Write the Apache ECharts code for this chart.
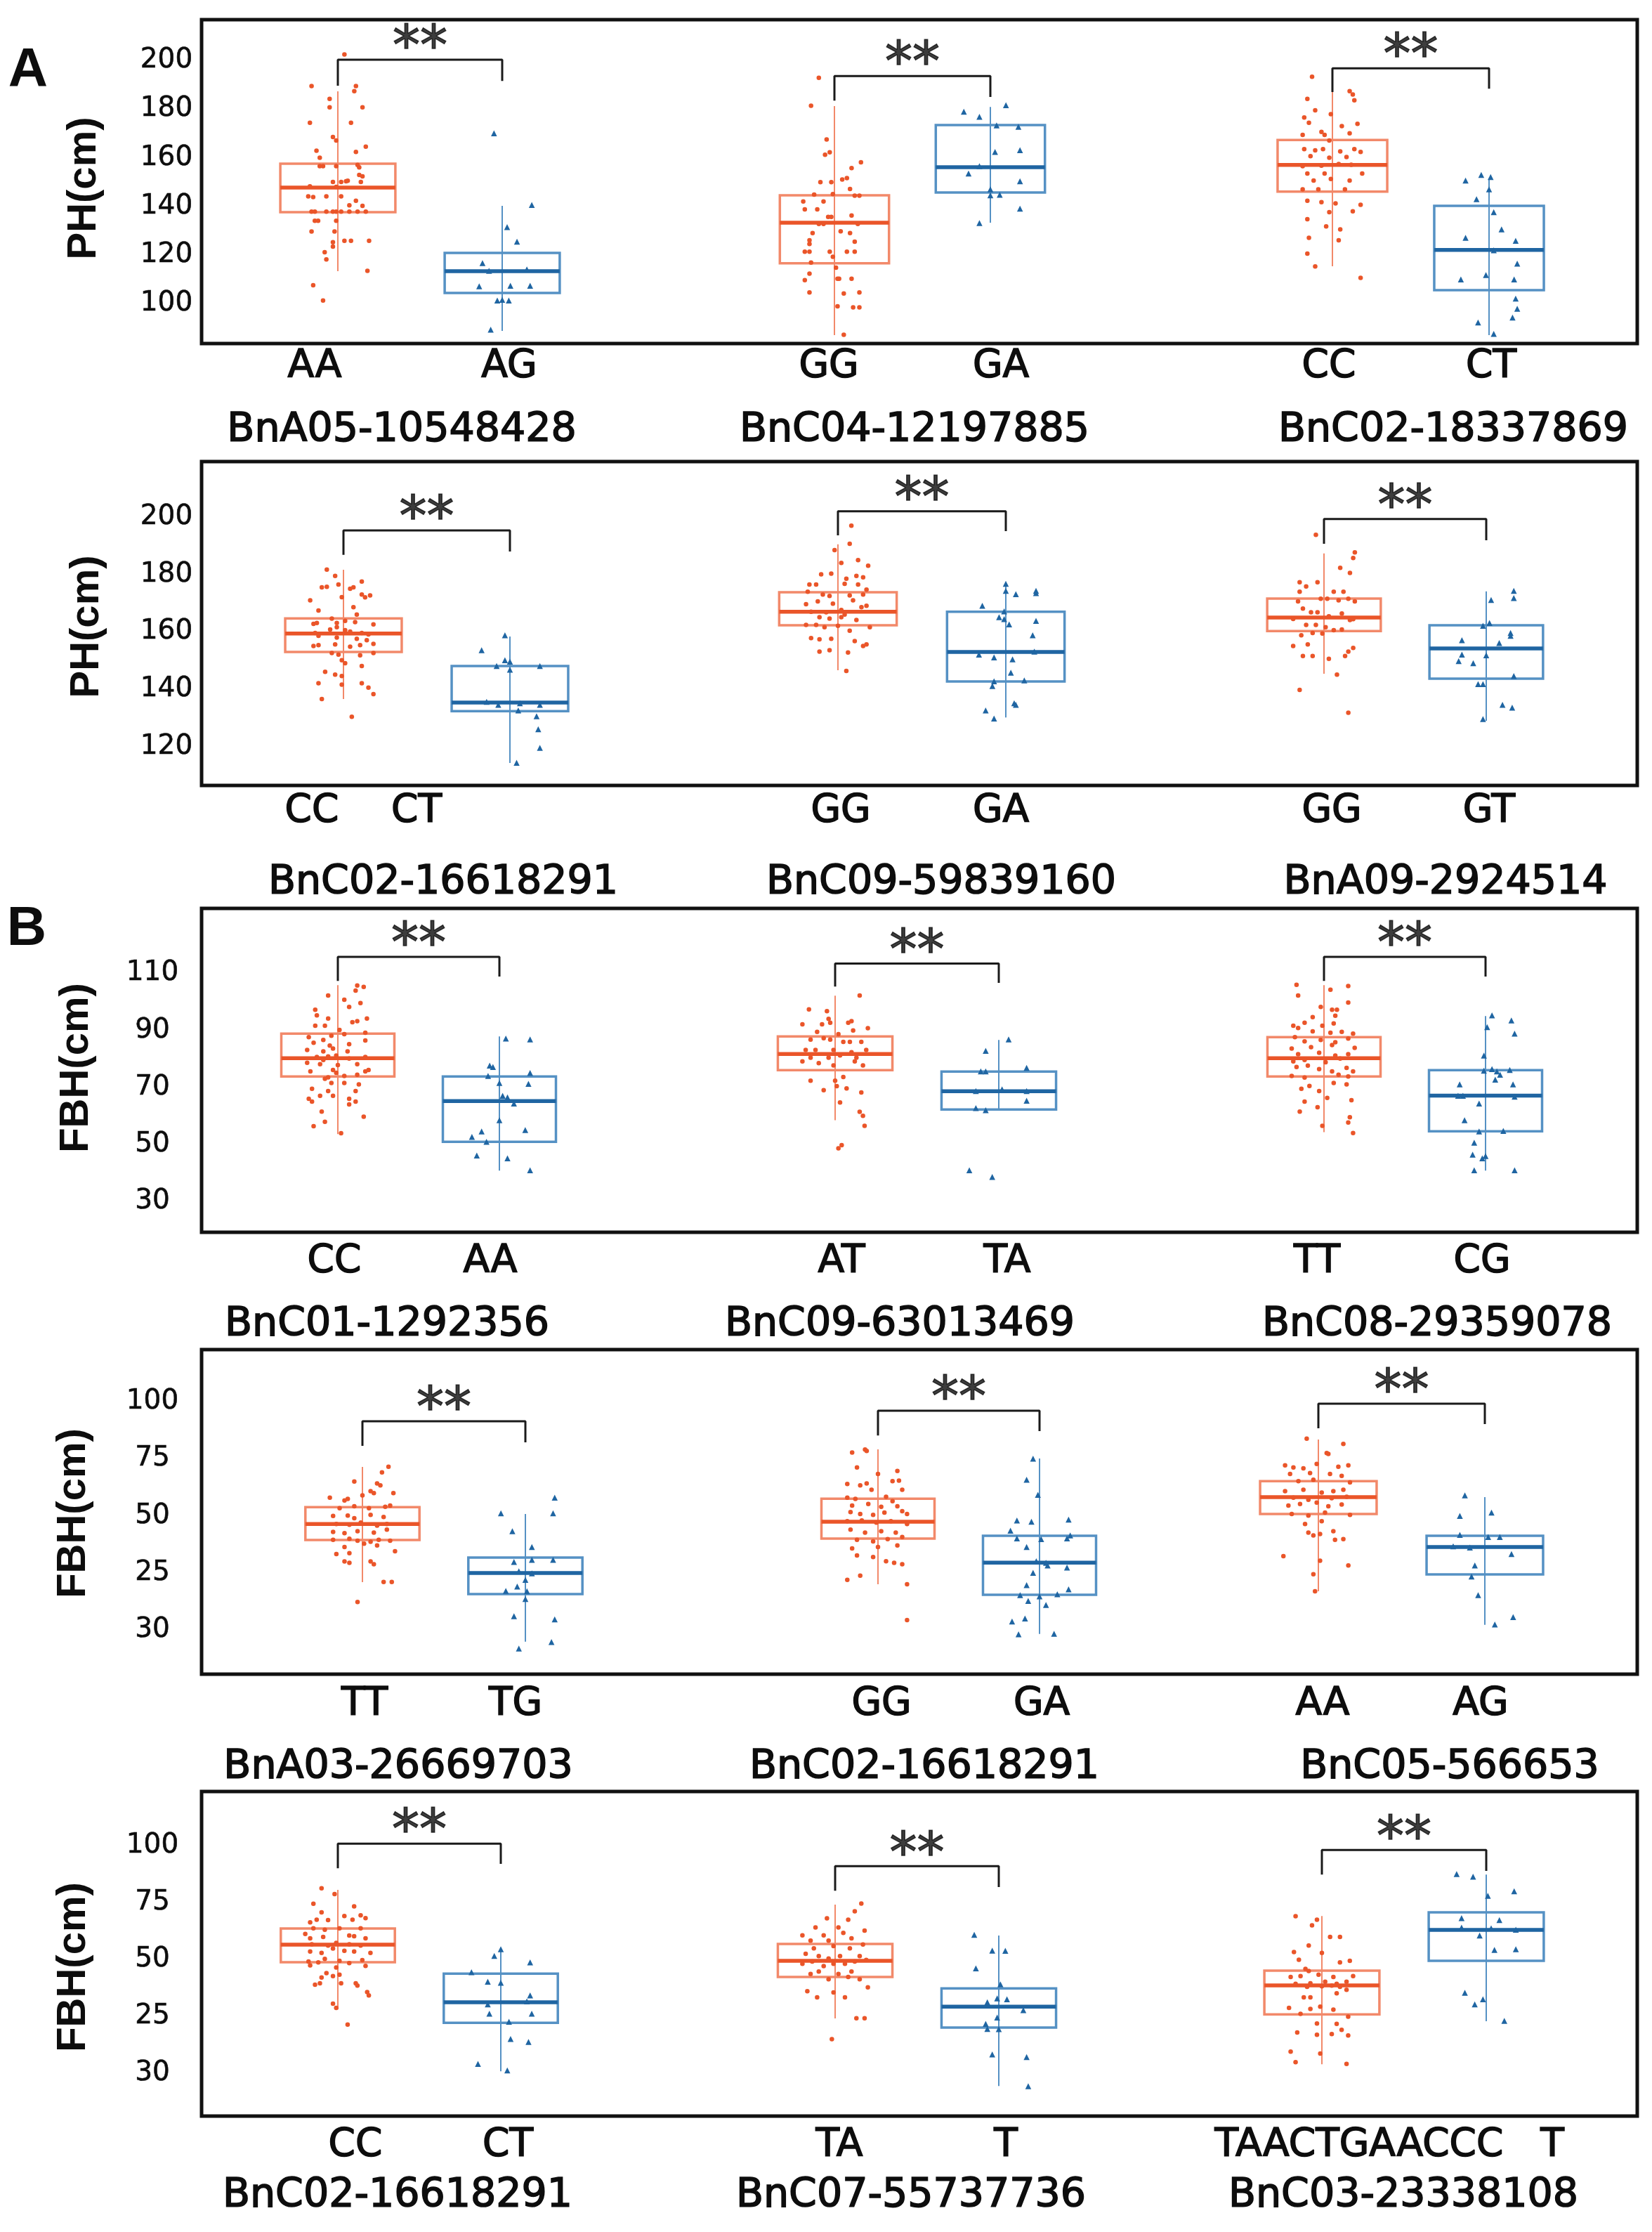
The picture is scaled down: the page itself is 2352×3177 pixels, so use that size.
<!DOCTYPE html>
<html lang="en">
<head>
<meta charset="UTF-8">
<title>PH / FBH genotype boxplots</title>
<style>
  html, body { margin: 0; padding: 0; background: #fff; }
  #container { width: 2352px; height: 3177px; }
</style>
</head>
<body>
<div id="container"></div>
<script src="https://cdn.jsdelivr.net/npm/echarts@6/dist/echarts.min.js"></script>
<script type="text/javascript">
// ---- data ----
var genotypes = [
  ['AA', 'AG'], ['GG', 'GA'], ['CC', 'CT'],
  ['CC', 'CT'], ['GG', 'GA'], ['GG', 'GT'],
  ['CC', 'AA'], ['AT', 'TA'], ['TT', 'CG'],
  ['TT', 'TG'], ['GG', 'GA'], ['AA', 'AG'],
  ['CC', 'CT'], ['TA', 'T'], ['TAACTGAACCC', 'T']
];
var markers = [
  'BnA05-10548428', 'BnC04-12197885', 'BnC02-18337869',
  'BnC02-16618291', 'BnC09-59839160', 'BnA09-2924514',
  'BnC01-1292356', 'BnC09-63013469', 'BnC08-29359078',
  'BnA03-26669703', 'BnC02-16618291', 'BnC05-566653',
  'BnC02-16618291', 'BnC07-55737736', 'BnC03-23338108'
];
var axisTitles = ['PH(cm)', 'PH(cm)', 'FBH(cm)', 'FBH(cm)', 'FBH(cm)'];
var phTicks = [100, 120, 140, 160, 180, 200];
var fbhTicks = [30, 50, 70, 90, 110];
var fbhTicks2 = [0, 25, 50, 75, 100];
var fbhTickText2 = ['30', '25', '50', '75', '100'];

// [min, Q1, median, Q3, max] for the two genotypes of each marker
var boxStats = [
  [[113.3, 137.6, 147.7, 157.5, 187.3], [88.7, 104.3, 113.3, 120.8, 140.2]],
  [[87.0, 116.5, 133.2, 144.5, 181.2], [133.2, 145.7, 156.1, 173.4, 180.9]],
  [[115.3, 146.0, 157.0, 167.3, 187.0], [87.0, 105.5, 122.0, 140.2, 151.4]],
  [[136.6, 153.0, 159.4, 164.7, 181.6], [114.3, 132.4, 135.4, 148.1, 158.4]],
  [[146.6, 162.3, 167.0, 173.8, 190.5], [130.2, 142.7, 153.0, 167.0, 176.5]],
  [[145.4, 160.3, 165.0, 171.6, 187.3], [129.0, 143.7, 154.2, 162.3, 174.1]],
  [[53.6, 73.8, 80.2, 88.8, 105.8], [40.8, 50.9, 65.2, 73.8, 87.8]],
  [[58.5, 76.0, 81.7, 87.8, 102.1], [62.0, 62.2, 68.6, 75.5, 86.6]],
  [[54.3, 73.8, 80.2, 87.6, 105.8], [40.8, 54.6, 67.1, 76.0, 95.0]],
  [[20.9, 39.4, 46.4, 53.8, 71.4], [-5.2, 15.7, 24.9, 31.7, 50.8]],
  [[20.0, 40.0, 47.4, 57.5, 79.1], [-1.8, 15.4, 29.5, 41.2, 75.1]],
  [[16.9, 50.8, 58.2, 65.2, 83.4], [2.2, 24.3, 36.3, 41.2, 58.2]],
  [[28.1, 48.8, 56.5, 63.6, 80.6], [0.9, 22.2, 31.2, 43.8, 54.9]],
  [[24.1, 42.3, 49.4, 56.8, 74.1], [-5.6, 20.1, 29.3, 37.3, 60.5]],
  [[4.0, 25.9, 38.6, 45.1, 69.1], [22.9, 49.4, 63.0, 70.7, 87.3]]
];

// significance bracket: [left leg bottom, top, right leg bottom]
var brackets = [
  [189.6, 200.3, 191.6], [183.5, 193.6, 185.0], [187.0, 196.8, 188.4],
  [186.8, 195.3, 188.0], [193.6, 202.0, 195.1], [190.7, 199.3, 191.9],
  [107.3, 115.7, 108.8], [105.3, 113.4, 106.6], [107.3, 115.7, 108.8],
  [80.6, 91.4, 82.2], [85.2, 96.0, 87.1], [88.3, 99.1, 90.2],
  [90.1, 100.9, 92.0], [80.2, 91.0, 81.8], [87.3, 98.1, 88.9]
];

// jittered points: [horizontal jitter, value]
var orangePts = [
  [[0.04,202.5],[-0.16,189.5],[0.10,187.4],[0.11,189.5],[-0.05,184.2],[-0.05,180.7],[0.15,180.7],[-0.17,174.4],[0.08,174.4],[-0.03,168.5],[-0.01,167.1],[-0.13,162.9],[0.11,162.4],[0.17,164.5],[-0.11,160],[-0.11,156.5],[-0.09,156.5],[-0.01,156.5],[0.12,157],[0.13,156],[0.13,152.9],[0.15,152.3],[-0.03,150],[0.02,150],[0.05,150.3],[0.06,150.5],[0.14,150],[-0.17,148.2],[-0.01,148],[-0.18,144.1],[-0.15,143.8],[-0.07,144.1],[0.02,144.1],[0.11,142.3],[0.07,140.4],[0.15,140.2],[-0.16,137.8],[-0.14,137.8],[-0.07,137.8],[-0.03,137.8],[-0.01,137.8],[0.02,137.8],[0.07,137.8],[0.12,137.8],[0.17,137.8],[-0.14,134],[-0.12,134],[-0.01,134],[-0.16,129.6],[-0.02,129.6],[0.04,125.8],[0.08,125.8],[0.19,125.8],[-0.03,125.2],[-0.03,123.4],[-0.08,121.1],[-0.07,118.1],[0.18,113.4],[-0.15,107.5],[-0.09,101.2]],
  [[-0.10,192.9],[-0.15,181.4],[-0.05,167.5],[-0.06,161.2],[-0.03,162.2],[0.11,155.7],[0.17,158.1],[-0.09,149.9],[-0.02,149.9],[0.05,151],[0.08,151.6],[-0.13,144.8],[-0.01,145],[0.10,147.1],[0.13,144.4],[0.16,144.4],[-0.20,142],[-0.07,142],[-0.19,138.7],[-0.11,138.7],[-0.04,135.6],[-0.02,135.6],[0.11,136.2],[-0.10,132.7],[-0.07,132.7],[0.15,132.7],[-0.14,129],[0.04,129.7],[0.10,129],[-0.16,126],[0.13,125.4],[-0.16,124.5],[-0.19,121.3],[-0.16,121.3],[-0.03,121.3],[0.08,121.3],[0.13,121.3],[-0.01,119.2],[-0.15,116.8],[0.01,114.7],[-0.16,112.3],[0.02,110.2],[0.03,110.2],[0.11,110.2],[-0.19,109.6],[-0.16,104.5],[0.06,104.1],[0.16,104.5],[0.02,98.8],[0.12,98.4],[0.16,98.4],[0.06,87.1]],
  [[-0.13,193.3],[-0.16,184.2],[0.11,187.4],[0.13,186],[0.14,183.6],[-0.11,179.5],[-0.01,177.9],[-0.18,176.5],[-0.15,174.4],[0.06,173],[0.16,173.9],[-0.07,170.6],[-0.05,169.4],[0.11,170],[-0.19,169.4],[-0.02,167.1],[-0.18,163.5],[-0.11,163],[-0.06,163.5],[0.05,162.6],[0.14,163.5],[0.18,162.4],[-0.14,160.6],[-0.02,160],[0.09,160.3],[-0.19,156.5],[-0.07,156.7],[0.04,157.4],[0.12,157.1],[-0.16,153.5],[-0.05,153.5],[0.19,153.5],[-0.12,150.6],[-0.01,151.2],[0.11,150.6],[-0.19,147],[-0.09,147],[0.08,147],[-0.16,142.3],[-0.07,141.7],[0.02,141.2],[0.18,140.6],[-0.02,137.6],[0.13,137.9],[-0.16,134.7],[-0.04,131.7],[0.05,130.5],[-0.15,127],[0.04,126],[-0.16,120.5],[-0.11,115.2],[0.18,110.5]],
  [[-0.10,181.7],[-0.05,179.5],[-0.13,175.5],[-0.10,175.7],[-0.03,176.5],[0.04,175],[0.06,175.5],[0.11,177.5],[0.11,173],[0.13,172],[0.16,172.7],[-0.20,171],[-0.01,172.1],[-0.15,167.4],[0.06,168.6],[0.08,166],[-0.07,164.6],[0.01,163.8],[-0.18,162.8],[-0.16,163.1],[-0.04,163.1],[0.07,163.4],[0.18,162.6],[-0.08,160.8],[-0.04,161.6],[0.01,160.6],[0.04,160.1],[0.11,159.6],[-0.17,159.6],[-0.15,158.6],[0.15,159.1],[-0.04,158],[0.08,157.6],[0.14,157.1],[-0.18,155.1],[-0.15,155.4],[-0.05,155.6],[0.04,154.8],[0.10,155.4],[0.18,155.8],[-0.07,152.6],[-0.03,152.1],[0.18,152.6],[-0.01,150.1],[0.01,149.1],[0.10,151.8],[0.11,148.1],[-0.11,146.1],[-0.05,145.1],[-0.01,144.6],[-0.15,142.1],[-0.01,141.6],[0.11,142.1],[0.15,140.6],[0.18,138.3],[-0.13,136.6],[0.05,130.4]],
  [[0.08,197],[0.07,190.7],[-0.02,188.5],[0.02,184],[0.12,185],[0.18,183],[-0.10,180],[-0.04,180.3],[0.05,178.5],[0.11,179.5],[0.15,179],[-0.17,176.5],[-0.13,176.5],[0.04,176.7],[0.12,176.5],[0.17,174.7],[-0.18,174],[-0.09,173],[-0.05,172.5],[0.07,172.7],[0.15,173],[-0.19,169.6],[-0.12,170.6],[-0.03,169.8],[0.09,171],[0.17,169.1],[-0.16,167],[-0.07,166.8],[0.02,167.6],[0.04,166],[0.14,168.6],[-0.11,165.1],[-0.05,164.6],[0.02,165.1],[0.11,164.1],[-0.19,162.4],[-0.13,162.4],[-0.08,161.6],[0,162.1],[0.07,160.4],[0.19,161.6],[-0.16,157.8],[-0.11,157.4],[-0.04,157.6],[0.10,156.8],[0.15,155.1],[0.17,155.6],[-0.11,153.1],[-0.05,153.6],[0.06,152.8],[0.05,146.4]],
  [[-0.05,193.8],[0.19,187.7],[0.18,185.7],[0.10,182.3],[0.16,180.5],[-0.15,177.3],[-0.11,175.8],[-0.04,177.3],[-0.15,174],[0.06,174],[0.12,174],[-0.02,171.5],[0.02,171.5],[0.09,171],[0.15,171.5],[0.19,170.6],[-0.16,170.6],[-0.13,168.1],[-0.08,166.8],[-0.04,166.8],[0.03,165.4],[0.11,166.4],[-0.19,164.5],[0.16,164.1],[0.18,164.4],[-0.11,162.4],[-0.05,162.4],[0.01,161.6],[0.06,160.6],[0.11,160.8],[-0.14,158.8],[-0.07,159.6],[-0.19,155.1],[-0.10,155.6],[-0.01,159.4],[0.18,154.4],[0.15,153.1],[-0.13,151.6],[-0.07,151.6],[0.03,150.6],[0.13,151.6],[0.08,145.1],[-0.15,139.8],[0.15,131.8]],
  [[0.12,105.7],[0.16,105.2],[0.11,103.9],[-0.06,102.2],[0.04,100.7],[-0.14,97.2],[-0.13,95.2],[0.07,98.2],[0.14,99.5],[-0.06,94.1],[0.09,92.8],[0.12,93.2],[0.18,94.1],[-0.14,91.6],[-0.08,91.6],[0.01,90.1],[0.17,89.1],[-0.18,87.6],[-0.09,86.6],[-0.04,88.1],[0.04,88.6],[-0.15,85.6],[-0.05,84.6],[0.07,85.1],[0.17,86.4],[-0.19,83.1],[-0.09,82.6],[-0.03,83.6],[0.06,82.6],[-0.13,80.6],[-0.06,80.8],[-0.01,81.1],[0.07,80.1],[0.17,80.6],[-0.19,78.6],[-0.11,78.1],[-0.09,79.6],[0,77.8],[0.12,78.1],[-0.17,75.6],[-0.03,76.1],[-0.01,75.1],[0.19,76.1],[-0.08,73],[-0.06,73.5],[0.04,74],[0.12,74.4],[0.17,75.6],[-0.04,71.5],[0.04,71.5],[0.13,71],[-0.16,69.5],[-0.06,68.7],[0.11,68.7],[-0.18,66],[-0.11,67],[-0.03,67],[0.07,66],[0.11,65],[-0.16,65],[0.07,64],[-0.10,61.5],[0.16,59.7],[-0.08,57.9],[-0.15,56.4],[0.02,53.9]],
  [[0.15,102.2],[-0.16,97.3],[-0.05,96.7],[-0.04,94],[0.08,92.6],[0.10,93.2],[-0.20,92.1],[-0.08,92.1],[-0.03,92.6],[-0.11,89.4],[0.02,88.6],[0.11,89.9],[0.20,90.7],[-0.15,86.7],[-0.07,87.2],[-0.03,86.7],[0.05,85.9],[0.09,85.9],[0.16,85.9],[-0.18,83.1],[-0.12,83.1],[-0.01,83.1],[0.10,82.3],[0.19,83.1],[-0.15,80.4],[-0.04,80.4],[0.03,81.2],[0.13,80.4],[-0.20,79.1],[-0.10,78.5],[-0.01,77.7],[0.12,79.1],[0.17,77.7],[-0.15,72.3],[0,72.3],[0.05,73.6],[-0.07,69],[0.01,70.4],[0.07,69.6],[0.16,68.2],[0.03,64.7],[0.15,61.4],[0.17,60],[0.18,56.5],[0.02,48.6],[0.04,49.7]],
  [[-0.17,105.9],[0.15,105.5],[0.04,104.2],[-0.16,102.2],[0.15,99.7],[-0.02,98.2],[0.05,97.2],[0.08,97.2],[-0.07,94.6],[0.07,95.1],[-0.19,91.6],[-0.16,90.8],[-0.12,92.6],[-0.01,91.6],[0.06,92.4],[-0.07,89.6],[0.04,89.1],[0.11,89.4],[0.18,88.8],[-0.18,87.6],[-0.12,86.1],[-0.02,86.6],[0.07,85.8],[0.15,87.1],[-0.08,84.1],[0.05,84.8],[0.19,83.8],[-0.20,83.6],[-0.16,81.6],[-0.03,82.1],[0.07,81.1],[0.15,81.6],[-0.19,79.1],[-0.12,79.6],[0.01,78.8],[0.10,80.1],[-0.17,77.1],[-0.10,77.6],[-0.03,76.4],[0.05,75.6],[0.14,76.8],[0.18,75.6],[-0.20,74],[-0.12,73.4],[0.09,74.4],[0.15,73.8],[-0.09,70.5],[0.06,71.5],[0.14,71],[-0.14,69.5],[-0.03,68.7],[-0.12,65],[0.02,66.3],[0.17,65.5],[-0.15,61.5],[-0.04,63],[0.16,59.5],[0.15,57.7],[-0.01,56.5],[0.18,54]],
  [[0.16,71.5],[0.12,69],[0.09,64.2],[0.11,63.3],[-0.05,65],[0.19,59.9],[-0.20,57.9],[-0.11,56.7],[-0.09,57.4],[0,58.9],[0.05,60.8],[0.07,59.9],[-0.14,53.3],[-0.05,54.2],[0.04,53.3],[0.14,53.9],[0.17,54.5],[-0.18,49.9],[-0.09,50.1],[-0.05,48.9],[0.05,50.4],[0.13,49.5],[-0.16,46.4],[-0.08,46.1],[-0.01,47],[0.09,45.7],[0.15,46.4],[-0.18,42.9],[-0.11,42.4],[-0.03,43.2],[0.07,42.6],[0.15,43.9],[-0.18,39.5],[-0.08,39.9],[-0.03,39.1],[0.05,38.6],[0.10,39.5],[0.17,39.1],[-0.11,36.3],[0.01,37.8],[0.09,37],[-0.16,33.2],[-0.08,33.6],[0.20,34.5],[-0.11,30],[-0.08,29.4],[0.05,30],[0.07,28.8],[0.13,21],[0.18,21],[-0.03,12.2]],
  [[-0.16,77.7],[-0.08,79],[-0.07,78.4],[0.12,69.6],[-0.13,71.2],[0,68.3],[0.09,65.2],[0.13,65.4],[-0.19,63.9],[-0.11,63.3],[-0.07,64.2],[-0.04,61.4],[0.15,61.4],[-0.19,57.9],[-0.14,57.4],[0.05,58.3],[0.09,56.4],[-0.16,54.5],[-0.06,55.2],[0.02,53.9],[0.12,54.2],[-0.17,51.6],[-0.11,50.8],[-0.03,50.4],[0.04,51.4],[0.15,52],[0.18,50.8],[-0.19,47.6],[-0.10,47.9],[-0.01,47],[0.08,47.6],[0.18,46.4],[-0.17,43.9],[-0.08,42.6],[0.02,43.2],[0.11,42.6],[-0.13,39.5],[-0.03,38.8],[0.06,39.8],[0.15,40.7],[-0.16,35.7],[0,36.3],[0.12,37],[-0.13,32.6],[-0.03,31.9],[0.05,30.1],[0.10,29.4],[0.15,28.8],[-0.11,23.8],[-0.19,21.9],[0.18,20],[0.18,4.3]],
  [[-0.07,83.8],[0.15,81.5],[0.05,77.5],[0.06,77.1],[-0.20,72.1],[-0.15,71.2],[-0.09,70.8],[-0.01,72.7],[0.12,71.5],[0.18,72.1],[-0.17,68.3],[-0.05,68.7],[0.07,68.3],[0.14,67.5],[-0.12,65.2],[-0.03,65.8],[0.19,64.6],[-0.20,60.8],[-0.09,61.4],[0.02,60.2],[0.09,60.8],[0.15,61.4],[-0.15,57.9],[-0.06,57],[0.08,57.7],[0.17,58.3],[-0.18,54.5],[-0.11,55.2],[-0.01,55.8],[0.06,54.2],[0.14,54.9],[-0.16,50.8],[-0.06,50.1],[0.04,51.4],[0.19,50.4],[-0.08,46.4],[0.02,47.6],[-0.06,42.6],[0.01,42],[0.09,43.2],[-0.03,41.4],[0.10,39.5],[0.15,39.8],[-0.21,32.3],[0.01,30.3],[0.18,28.2],[-0.03,24.4],[-0.02,16.9]],
  [[-0.10,81.3],[-0.02,78.7],[-0.15,74.5],[0.10,73.3],[-0.10,70.7],[0.04,69.1],[0.14,69.4],[0.17,68.2],[-0.17,66.3],[-0.13,67.5],[-0.06,67.3],[0.09,67.5],[-0.15,63.7],[-0.08,63.1],[0.01,63.7],[0.14,63.7],[-0.20,61.2],[-0.17,59.3],[-0.09,59.9],[0.07,60.5],[0.10,60.2],[0.17,59.3],[-0.16,56.7],[-0.06,56.1],[-0.01,57.3],[0.07,56.7],[0.14,56.1],[-0.17,53.5],[-0.10,52.9],[-0.03,54.8],[0.04,53.8],[0.10,53.5],[0.20,52.9],[-0.18,49.1],[-0.12,48.7],[-0.08,50.3],[0.01,49.4],[0.07,48.4],[0.15,49.7],[-0.17,47.4],[-0.01,46.5],[0.17,47.2],[-0.07,44],[0.01,43.3],[-0.10,42.1],[-0.03,42.7],[-0.14,38.9],[-0.11,39.5],[0.02,39.5],[0.11,39.5],[0.12,38.5],[0.18,35.7],[0.19,34.2],[-0.03,30.6],[-0.01,28.7],[0.06,21.4]],
  [[0.16,74.6],[0.12,71.2],[0.08,67.5],[-0.05,68.1],[-0.12,64.1],[0.02,64.1],[-0.07,60.6],[0.05,61.7],[0.18,62.7],[-0.20,60.6],[-0.15,58.3],[-0.04,58.3],[0.10,59.3],[-0.13,54.9],[-0.01,55.9],[0.09,54.9],[0.17,56.6],[-0.18,52.5],[-0.10,51.5],[-0.04,50.4],[0.03,51.5],[0.15,51.5],[-0.20,48.1],[-0.14,49.1],[-0.07,47.1],[-0.01,48.1],[0.06,48.1],[0.12,49.1],[0.19,49.8],[-0.15,43.6],[-0.10,44.7],[0.02,43.6],[0.10,44.7],[-0.04,41.3],[0.08,42.3],[0.15,41.3],[-0.17,36.1],[-0.11,33.4],[-0.01,35.5],[0.06,33.4],[0.20,37.8],[0.13,24.2],[0.18,24.2],[-0.02,15]],
  [[-0.16,69],[-0.03,67.5],[-0.06,65],[0.05,59.9],[0.11,59.9],[-0.08,56.1],[-0.17,53.3],[0,52.9],[-0.14,49.9],[0.11,48.7],[0.17,49.4],[-0.10,45.9],[-0.08,44.9],[-0.19,42.3],[-0.13,42.7],[-0.02,43.3],[0.07,42.3],[0.19,42.7],[-0.16,39.3],[-0.07,39.5],[0.02,40.2],[0.09,39.3],[0.15,40.2],[-0.09,38],[0,38.2],[0.06,38.5],[0.11,38],[0.15,36.7],[-0.11,33.4],[-0.07,33.4],[0.09,35.1],[-0.20,28.7],[-0.07,28.3],[-0.01,29.3],[0.07,28],[-0.13,26.1],[0.16,24.9],[-0.03,21.9],[0.09,21.7],[-0.15,17.9],[-0.03,16.9],[0.06,17.2],[0.12,19.1],[0.16,16.6],[-0.19,9.5],[-0.01,8.7],[-0.16,4.9],[0.15,4.1]]
];
var bluePts = [
  [[-0.05,170],[0.18,140.5],[0.03,131.4],[0.09,125.4],[-0.12,116.6],[-0.08,113.4],[0.15,114],[-0.14,107.1],[0.05,107.3],[0.17,107.3],[-0.03,101.2],[0,101.5],[0.04,101.2],[-0.07,89.2]],
  [[-0.17,178.9],[-0.07,176.8],[0.10,181.6],[0.04,173.3],[0.18,172.7],[0.03,162.4],[0.19,163.1],[-0.07,156.5],[-0.14,153.5],[0.19,150.3],[0,147],[0.06,144.7],[0,144.5],[0.19,139],[-0.07,133.1]],
  [[-0.15,150.6],[-0.05,152.9],[0.01,152],[0,147],[-0.08,142.9],[0.03,137.6],[0.08,130.5],[-0.15,127],[0.17,125.8],[0.03,121.9],[0.18,116.4],[-0.18,109.9],[-0.02,111.7],[0.16,109.9],[0.17,102],[0.18,97.8],[0.15,94.2],[-0.07,92.2],[0.03,87.5]],
  [[-0.03,158.8],[-0.17,153.6],[-0.03,150.1],[0,149.6],[-0.08,148.1],[0.18,148.1],[0,146.8],[-0.14,135.6],[-0.07,134.6],[0.06,135.1],[0.18,134.6],[0.05,132.6],[0.16,130.6],[0.17,126.1],[0.18,119.6],[0.04,114.4]],
  [[0,176.7],[0,174.3],[0.06,173.1],[0.18,174.3],[0.18,173.5],[-0.14,169.1],[-0.01,167.1],[-0.04,165.1],[-0.01,164.4],[0.02,162.6],[0.18,163.8],[0.16,158.8],[0.17,153.1],[-0.16,152.1],[-0.07,151.1],[0.04,150.4],[0.03,145.8],[-0.07,142.8],[-0.08,141.1],[0.11,143.1],[0.05,135.1],[0.06,134.6],[-0.12,132.6],[-0.07,129.8]],
  [[0.17,174.3],[0.17,171.8],[0.03,171.1],[0.02,163.1],[-0.02,162.1],[0.15,159.6],[0.15,158.6],[-0.15,157.1],[0.08,156.1],[-0.15,152.1],[0,151.8],[-0.17,149.8],[-0.08,149.1],[0.17,144.6],[-0.05,141.8],[-0.02,141.8],[0.10,134.6],[0.16,133.6],[-0.02,129.6]],
  [[0.04,87.1],[0.19,86.8],[-0.06,77.6],[-0.04,77.1],[-0.07,74],[0.19,75],[0,71.5],[0.18,71.2],[0.02,67],[0.05,66.5],[0.09,64.3],[0,58.5],[-0.11,54.5],[-0.17,52.6],[-0.08,50.9],[0.16,55],[-0.14,46.1],[0.05,45.1],[0.19,40.9]],
  [[0.06,86.8],[-0.08,82.8],[-0.11,75.6],[-0.08,75.6],[0.17,76.8],[-0.14,68.7],[0.02,69.3],[0.17,68.7],[0.17,65.3],[-0.14,62.7],[-0.08,62],[-0.18,40.9],[-0.04,38.6]],
  [[0.04,95.2],[0.16,93.4],[0.01,91.1],[0.18,88.8],[-0.01,81.1],[-0.01,75.8],[0.04,76.4],[0.07,75.6],[0.15,76.1],[0.09,74.4],[0.06,72.7],[-0.16,71],[0.17,71],[-0.17,67],[-0.14,67],[0.18,66.7],[-0.04,64.3],[-0.13,58.5],[-0.04,54.5],[0.11,54.7],[-0.07,50.6],[-0.08,46.4],[0,45.9],[-0.02,45.1],[-0.07,40.9],[0.18,40.9]],
  [[0.18,57.9],[0.17,51.1],[-0.15,51.1],[-0.08,43.2],[0.04,36.3],[-0.07,29.8],[0.04,30.7],[0.17,30.7],[-0.04,25.7],[0.04,24.8],[0,21.9],[-0.05,19],[-0.12,17.1],[0.01,16.9],[0,13.5],[-0.07,6],[0.18,4.6],[0.16,-5.3],[-0.04,-8.2]],
  [[-0.04,75],[-0.08,65.8],[-0.01,59.2],[-0.14,47.9],[-0.05,47.4],[0.18,48.3],[-0.18,43.5],[-0.14,40.1],[0.01,39.8],[0.17,40.1],[0.19,41.4],[-0.08,36.3],[-0.02,30.1],[0.04,29.4],[0.05,28.2],[-0.04,25],[0.17,27.3],[-0.08,19.6],[0.18,17.8],[-0.12,15.2],[0,14.7],[0.11,15.6],[-0.07,12.7],[0.04,10.9],[-0.17,3.7],[-0.09,5],[-0.13,-1.9],[0.09,-1.7]],
  [[-0.12,58.9],[-0.15,49.9],[0.04,51.4],[-0.15,41.6],[0.02,40.7],[0.09,40.7],[-0.19,36.6],[-0.09,36.1],[0.16,33.2],[-0.06,28.2],[-0.08,23.4],[-0.04,15.2],[0.17,5.6],[0.06,2.4]],
  [[0,54.5],[-0.04,51.6],[0.18,48.7],[-0.18,44.4],[-0.08,40.2],[0,39.8],[0.18,34.2],[0.16,31.6],[-0.08,30.3],[-0.07,26.2],[0.19,26.2],[0.05,22.6],[0.06,15.1],[0.17,13.8],[-0.14,4.1],[0.04,1.3]],
  [[-0.15,60.8],[-0.04,53.9],[0.04,53.8],[-0.14,46.1],[0.01,39.1],[-0.07,31.2],[-0.01,32.9],[0.05,32.5],[0.15,27.7],[-0.01,24.5],[-0.08,21.7],[-0.07,19.5],[0,19.4],[-0.04,8.3],[0.17,7.1],[0.18,-5.7]],
  [[-0.18,87.5],[-0.08,86.4],[0.17,80],[0.01,78],[-0.15,68.2],[0.08,67.3],[-0.15,64],[0.03,63.7],[0.18,63.1],[-0.04,60.5],[0.05,54.2],[0.18,54.5],[-0.13,35.4],[-0.02,32.5],[-0.07,30.3],[0.11,23]]
];

// ---- layout (pixels) ----
var frameLeft = 287, frameRight = 2331;
var frameTop = [28, 657, 1293, 1921, 2550];
var frameBottom = [489, 1118, 1754, 2383, 3012];
var yMin = [83.5, 106.5, 19.2, -19.4, -18.8];
var yMax = [216.8, 219.3, 132.7, 122.8, 123.8];
var boxCenters = [[481,715],[1188,1410],[1897,2120],[489,726],[1193,1432],[1885,2116],[481,711],[1189,1422],[1885,2115],[516,748],[1250,1480],[1877,2114],[481,713],[1189,1422],[1882,2116]];
var labelCenters = [[448,725],[1180,1425],[1892,2123],[444,593],[1197,1425],[1896,2120],[476,698],[1198,1434],[1875,2110],[519,734],[1255,1483],[1883,2108],[506,723],[1195,1432],[1935,2210]];
var nameX = [572,1302,2069,631,1340,2058,551,1281,2046,567,1316,2064,566,1297,1998];
var labelY = [522, 1155, 1796, 2426, 3054];
var nameY = [613, 1257, 1886, 2516, 3126];
var tickLabelX = [237, 237, 217, 217, 217];
var titleX = [120, 124, 109, 105, 105];
var titleY = [268, 892, 1520, 2154, 2800];

var ORANGE = '#EA5529', ORANGE_BOX = '#F2896A';
var BLUE = '#1F65A2', BLUE_BOX = '#5591C4';
var INK = '#0d0d0d';
var rowTicks = [phTicks, phTicks, fbhTicks, fbhTicks2, fbhTicks2];

function tickFormatter(r) {
    return function (v) {
        var t = rowTicks[r];
        for (var i = 0; i < t.length; i++) {
            if (Math.abs(t[i] - v) < 1e-6) {
                return r >= 3 ? fbhTickText2[i] : String(t[i]);
            }
        }
        return '';
    };
}

function renderBox(params, api) {
    var x = api.value(0);
    var pLo = api.coord([x, api.value(1)]);
    var pQ1 = api.coord([x, api.value(2)]);
    var pMd = api.coord([x, api.value(3)]);
    var pQ3 = api.coord([x, api.value(4)]);
    var pHi = api.coord([x, api.value(5)]);
    var w = api.size([1, 0])[0] * 0.7;
    var line = x === 0 ? ORANGE_BOX : BLUE_BOX;
    var med = x === 0 ? ORANGE : BLUE;
    return {
        type: 'group',
        children: [
            {type: 'line', shape: {x1: pMd[0], y1: pLo[1], x2: pMd[0], y2: pHi[1]},
             style: {stroke: line, lineWidth: 2}},
            {type: 'rect', shape: {x: pMd[0] - w / 2, y: pQ3[1], width: w, height: pQ1[1] - pQ3[1]},
             style: {fill: 'none', stroke: line, lineWidth: 3.5}},
            {type: 'line', shape: {x1: pMd[0] - w / 2, y1: pMd[1], x2: pMd[0] + w / 2, y2: pMd[1]},
             style: {stroke: med, lineWidth: 5.5}}
        ]
    };
}

var grids = [], xAxes = [], yAxes = [], series = [], graphics = [];

for (var g = 0; g < 15; g++) {
    var r = Math.floor(g / 3);
    var c = boxCenters[g], d = c[1] - c[0];
    var gl = c[0] - d / 2;
    grids.push({left: gl, top: frameTop[r], width: 2 * d, height: frameBottom[r] - frameTop[r]});
    xAxes.push({type: 'value', gridIndex: g, min: -0.5, max: 1.5, show: false});
    var yAx = {
        type: 'value', gridIndex: g, min: yMin[r], max: yMax[r],
        axisLine: {show: false}, axisTick: {show: false}, splitLine: {show: false},
        axisLabel: {show: false}
    };
    if (g % 3 === 0) {
        yAx.axisLabel = {
            show: true, customValues: rowTicks[r], formatter: tickFormatter(r),
            showMinLabel: true, showMaxLabel: true,
            margin: gl - tickLabelX[r], align: 'center',
            fontSize: 39, fontFamily: 'DejaVu Sans', color: INK,
            textBorderColor: INK, textBorderWidth: 0.6
        };
    }
    yAxes.push(yAx);

    var st = boxStats[g];
    series.push({
        type: 'custom', xAxisIndex: g, yAxisIndex: g, renderItem: renderBox, silent: true,
        encode: {x: 0, y: [1, 2, 3, 4, 5]},
        data: [[0].concat(st[0]), [1].concat(st[1])], z: 2
    });
    series.push({
        type: 'scatter', xAxisIndex: g, yAxisIndex: g, symbol: 'circle', symbolSize: 6.5, silent: true,
        itemStyle: {color: ORANGE, opacity: 1}, z: 3,
        data: orangePts[g].map(function (p) { return [p[0], p[1]]; })
    });
    series.push({
        type: 'scatter', xAxisIndex: g, yAxisIndex: g, symbol: 'triangle', symbolSize: 8.5, silent: true,
        itemStyle: {color: BLUE, opacity: 1}, z: 3,
        data: bluePts[g].map(function (p) { return [1 + p[0], p[1]]; })
    });
    var br = brackets[g];
    series.push({
        type: 'line', xAxisIndex: g, yAxisIndex: g, symbol: 'none', silent: true,
        lineStyle: {color: '#1a1a1a', width: 3}, z: 4,
        data: [[0, br[0]], [0, br[1]], [1, br[1]], [1, br[2]]]
    });
    series.push({
        type: 'scatter', xAxisIndex: g, yAxisIndex: g, symbolSize: 1, silent: true,
        itemStyle: {color: 'rgba(0,0,0,0)'}, z: 4,
        label: {show: true, position: 'inside', formatter: '**', offset: [0, -14],
                fontSize: 78, fontFamily: 'DejaVu Sans', color: INK,
                textBorderColor: INK, textBorderWidth: 1.5},
        data: [[0.5, br[1]]]
    });

    graphics.push({
        type: 'text', x: nameX[g], y: nameY[r], z: 20,
        style: {text: markers[g], fontSize: 57, fontFamily: 'DejaVu Sans', fill: INK,
                stroke: INK, lineWidth: 1.6, align: 'center', verticalAlign: 'middle'}
    });
}

// genotype labels sit on their own hidden grids so they can be placed like the original
for (var k = 0; k < 15; k++) {
    var rr = Math.floor(k / 3);
    var lc = labelCenters[k], ld = lc[1] - lc[0];
    grids.push({left: lc[0] - ld / 2, top: frameTop[rr], width: 2 * ld, height: frameBottom[rr] - frameTop[rr]});
    xAxes.push({
        type: 'category', gridIndex: 15 + k, data: genotypes[k], boundaryGap: true,
        axisLine: {show: false}, axisTick: {show: false}, splitLine: {show: false},
        axisLabel: {interval: 0, margin: labelY[rr] - frameBottom[rr], verticalAlign: 'middle',
                    fontSize: 55, fontFamily: 'DejaVu Sans', color: INK,
                    textBorderColor: INK, textBorderWidth: 1.6}
    });
    yAxes.push({type: 'value', gridIndex: 15 + k, min: 0, max: 1, show: false});
}

for (var f = 0; f < 5; f++) {
    graphics.push({
        type: 'rect', z: 10, silent: true,
        shape: {x: frameLeft, y: frameTop[f], width: frameRight - frameLeft, height: frameBottom[f] - frameTop[f]},
        style: {fill: 'none', stroke: '#111', lineWidth: 5}
    });
    graphics.push({
        type: 'text', x: titleX[f], y: titleY[f], rotation: Math.PI / 2, z: 20,
        style: {text: axisTitles[f], fontSize: 58, fontWeight: 'bold', fontFamily: 'Liberation Sans',
                fill: INK, align: 'center', verticalAlign: 'middle'}
    });
}
graphics.push({type: 'text', x: 40, y: 101, z: 20,
    style: {text: 'A', fontSize: 78, fontWeight: 'bold', fontFamily: 'Liberation Sans', fill: INK,
            align: 'center', verticalAlign: 'middle'}});
graphics.push({type: 'text', x: 38, y: 1323, z: 20,
    style: {text: 'B', fontSize: 78, fontWeight: 'bold', fontFamily: 'Liberation Sans', fill: INK,
            align: 'center', verticalAlign: 'middle'}});

var option = {
    backgroundColor: '#ffffff',
    animation: false,
    textStyle: {fontFamily: 'DejaVu Sans'},
    grid: grids,
    xAxis: xAxes,
    yAxis: yAxes,
    series: series,
    graphic: graphics
};

var myChart = echarts.init(document.getElementById('container'));
myChart.setOption(option);
</script>
</body>
</html>
